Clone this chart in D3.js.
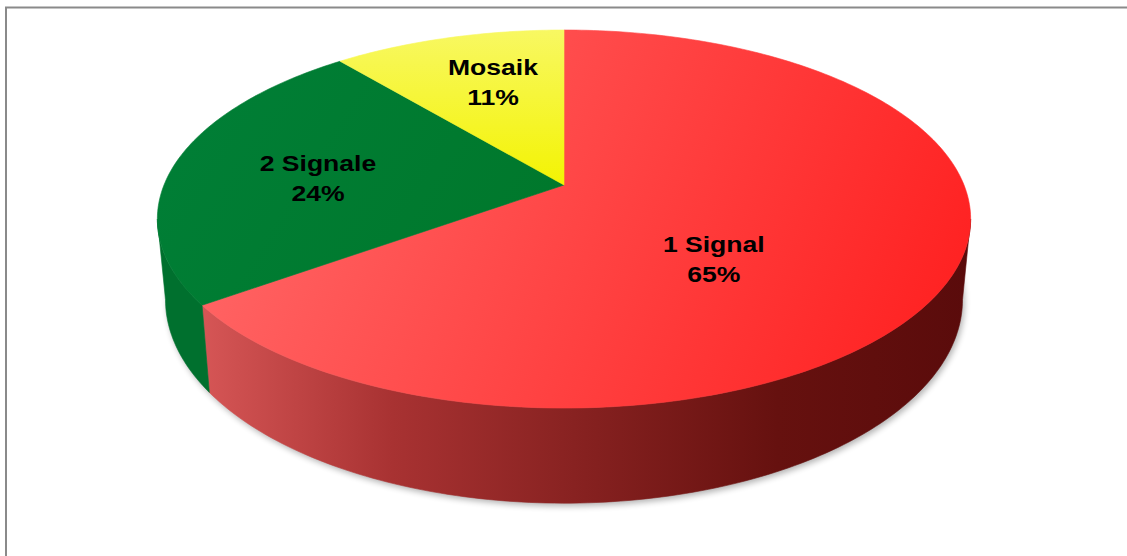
<!DOCTYPE html>
<html>
<head>
<meta charset="utf-8">
<script src="https://cdn.jsdelivr.net/npm/d3@7"></script>
<style>
  html, body { margin: 0; padding: 0; background: #ffffff; }
  svg { display: block; }
  text { font-family: "Liberation Sans", Arial, sans-serif; font-weight: bold; fill: #000; }
</style>
</head>
<body>
<svg id="chart" width="1127" height="556"></svg>
<script>
// Signal distribution
const categories = ["1 Signal", "2 Signale", "Mosaik"];
const shares = [65, 24, 11];
const shareLabels = ["65%", "24%", "11%"];

// Slice colours: top face gradient ends and side wall colours
const topColors = [["#ff6767", "#ff1f1f"], ["#007f37", "#00772a"], ["#f8f862", "#f3f300"]];
const sideColors = [["#d65656", "#a83232", "#862120", "#66110f", "#5a0b0b"], ["#00702e", "#006a2a"], ["#d8d800", "#c8c800"]];

// Label placement inside each slice (radius fraction, position along slice, depth fraction)
const labelPlace = [{ r: 0.41, t: 0.5, d: 0.47 }, { r: 0.63, t: 0.5, d: 0.09 }, { r: 0.66, t: 0.56, d: 0.0 }];

const W = 1127, H = 556;
const svg = d3.select("#chart");

// Perspective view of a tilted disc
const view = { cx: 564, cy: 185, A: 400, B: 182.9, k: 0.18, h: 78, back: 0.98 };

function project(theta, r, depth) {
  const X = r * Math.sin(theta), Y = r * Math.cos(theta);
  const w = 1 + view.k * Y;
  const s = 1 - (1 - view.back) * depth;
  return [view.cx + s * view.A * X / w, view.cy + (-view.B * Y + depth * view.h) / w];
}

const pie = d3.pie().sort(null).value(d => d);
const arcs = pie(shares);

const defs = svg.append("defs");

// soft shadow beneath the disc
const blur = defs.append("filter").attr("id", "soft").attr("x", "-10%").attr("y", "-10%").attr("width", "120%").attr("height", "130%");
blur.append("feGaussianBlur").attr("stdDeviation", 3);

arcs.forEach((a, i) => {
  const g = defs.append("linearGradient").attr("id", "top" + i).attr("gradientUnits", "userSpaceOnUse");
  if (i === 2) g.attr("x1", 0).attr("y1", 30).attr("x2", 0).attr("y2", 190);
  else if (i === 1) g.attr("x1", 160).attr("y1", 60).attr("x2", 560).attr("y2", 310);
  else g.attr("x1", 250).attr("y1", 60).attr("x2", 960).attr("y2", 360);
  topColors[i].forEach((c, j) => g.append("stop").attr("offset", j / (topColors[i].length - 1)).attr("stop-color", c));

  const s = defs.append("linearGradient").attr("id", "side" + i).attr("gradientUnits", "userSpaceOnUse")
    .attr("x1", 200).attr("y1", 0).attr("x2", 970).attr("y2", 0);
  sideColors[i].forEach((c, j) => s.append("stop").attr("offset", j / (sideColors[i].length - 1)).attr("stop-color", c));
});

const line = d3.line();
const steps = t0 => d3.range(0, 1.0001, 1 / 160);

// shadow of the full bottom outline
const bottomRing = steps().map(f => project(f * 2 * Math.PI, 1, 1));
svg.append("path")
  .attr("d", line(bottomRing) + "Z")
  .attr("transform", "translate(2,3)")
  .attr("fill", "#000")
  .attr("opacity", 0.3)
  .attr("filter", "url(#soft)");

// Visible range of the outer wall lies between the silhouette angles
const silL = Math.acos(-view.k), silR = 2 * Math.PI - Math.acos(-view.k);

const sides = svg.append("g");
arcs.forEach((a, i) => {
  const a0 = Math.max(a.startAngle, silL), a1 = Math.min(a.endAngle, silR);
  if (a1 <= a0) return;
  const n = Math.max(8, Math.ceil((a1 - a0) / (Math.PI / 180)));
  const ts = d3.range(n + 1).map(j => a0 + (a1 - a0) * j / n);
  const upper = ts.map(t => project(t, 1, 0));
  const lower = ts.slice().reverse().map(t => project(t, 1, 1));
  sides.append("path")
    .attr("d", line(upper.concat(lower)) + "Z")
    .attr("fill", `url(#side${i})`)
    .attr("stroke", `url(#side${i})`)
    .attr("stroke-width", 0.6);
});

// Top faces
const tops = svg.append("g");
arcs.forEach((a, i) => {
  const n = Math.max(8, Math.ceil((a.endAngle - a.startAngle) / (Math.PI / 180)));
  const pts = [project(0, 0, 0)].concat(
    d3.range(n + 1).map(j => project(a.startAngle + (a.endAngle - a.startAngle) * j / n, 1, 0)));
  tops.append("path")
    .attr("d", line(pts) + "Z")
    .attr("fill", `url(#top${i})`)
    .attr("stroke", `url(#top${i})`)
    .attr("stroke-width", 0.6);
});

// Data labels: category and share
const labels = svg.append("g");
arcs.forEach((a, i) => {
  const p = labelPlace[i];
  const theta = a.startAngle + (a.endAngle - a.startAngle) * p.t;
  const [x, y] = project(theta, p.r, p.d);
  const g = labels.append("g").attr("transform", `translate(${x},${y}) scale(1.18,1)`);
  g.append("text").attr("text-anchor", "middle").attr("y", -6.5).attr("font-size", 22.5).text(categories[i]);
  g.append("text").attr("text-anchor", "middle").attr("y", 23.5).attr("font-size", 22.5).text(shareLabels[i]);
});

// Chart frame (top and left edges fall inside the view)
svg.append("path")
  .attr("d", `M6,${H} V7.5 H${W}`)
  .attr("fill", "none")
  .attr("stroke", "#8a8a8a")
  .attr("stroke-width", 2);
</script>
</body>
</html>
